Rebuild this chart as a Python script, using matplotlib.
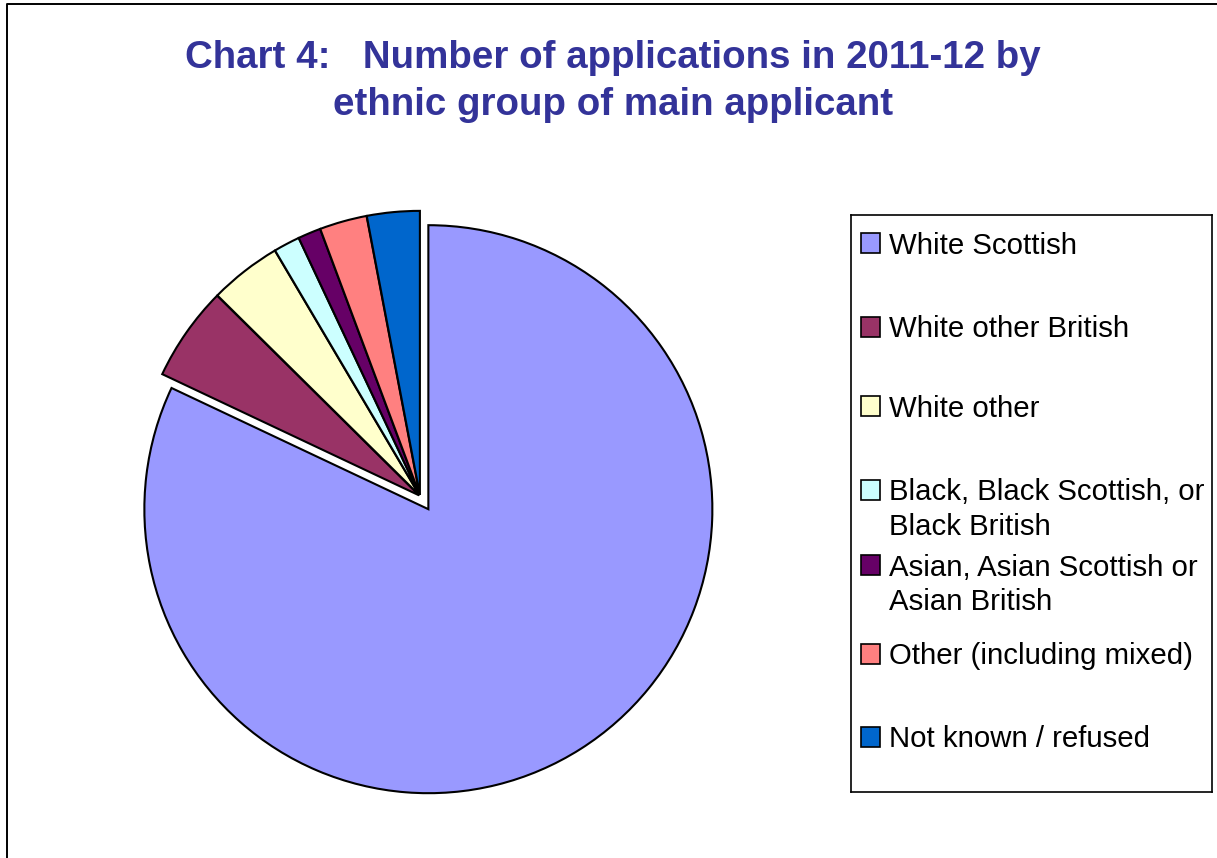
import matplotlib.pyplot as plt
from matplotlib.patches import Rectangle
from matplotlib.lines import Line2D

plt.rcParams['font.family'] = ['Liberation Sans', 'DejaVu Sans']

# share of applications by ethnic group (%)
groups = ['White Scottish', 'White other British', 'White other',
          'Black, Black Scottish, or\nBlack British',
          'Asian, Asian Scottish or\nAsian British',
          'Other (including mixed)', 'Not known / refused']
shares = [82.1, 5.4, 4.1, 1.5, 1.3, 2.7, 3.0]
colours = ['#9999FF', '#993366', '#FFFFCC', '#CCFFFF', '#660066', '#FF8080', '#0066CC']
explode = [0.055, 0.004, 0.004, 0.004, 0.004, 0.004, 0.004]

W, H = 1217, 858
fig = plt.figure(figsize=(W / 100, H / 100), dpi=100)

# outer frame (left and top edges only)
fig.add_artist(Line2D([6.5 / W, 6.5 / W, 1], [0, 1 - 4 / H, 1 - 4 / H],
                      transform=fig.transFigure, color='black', lw=1.4))

# title
tcol = '#333399'
fig.text(613 / W, 1 - 68 / H, 'Chart 4:   Number of applications in 2011-12 by',
         ha='center', va='baseline', fontsize=27.7, fontweight='bold', color=tcol)
fig.text(613 / W, 1 - 115 / H, 'ethnic group of main applicant',
         ha='center', va='baseline', fontsize=27.7, fontweight='bold', color=tcol)

# pie
cx, cy, r, half = 420, 496, 284, 300
ax = fig.add_axes([(cx - half) / W, (H - cy - half) / H, 2 * half / W, 2 * half / H])
ax.pie(shares, colors=colours, explode=explode, startangle=90, counterclock=False,
       radius=1, wedgeprops=dict(edgecolor='black', linewidth=1.5))
ax.set_xlim(-half / r, half / r)
ax.set_ylim(-half / r, half / r)
ax.set_aspect('equal')
ax.axis('off')

# legend box
lx0, ly0, lx1, ly1 = 851, 215, 1212, 792
lg = fig.add_axes([lx0 / W, (H - ly1) / H, (lx1 - lx0) / W, (ly1 - ly0) / H])
lg.set_xlim(0, lx1 - lx0)
lg.set_ylim(ly1 - ly0, 0)
lg.set_xticks([])
lg.set_yticks([])
for s in lg.spines.values():
    s.set_linewidth(1.2)
    s.set_color('black')

baselines = [39, 122.5, 202, 285.5, 360.5, 449, 532]
line_gap = 34.5
for name, col, base in zip(groups, colours, baselines):
    lg.add_patch(Rectangle((10, base - 20.5), 19, 20, facecolor=col,
                           edgecolor='black', linewidth=1.2))
    for k, line in enumerate(name.split('\n')):
        lg.text(38, base + k * line_gap, line, ha='left', va='baseline',
                fontsize=21.2, color='black')

fig.savefig('out.png', dpi=100)
